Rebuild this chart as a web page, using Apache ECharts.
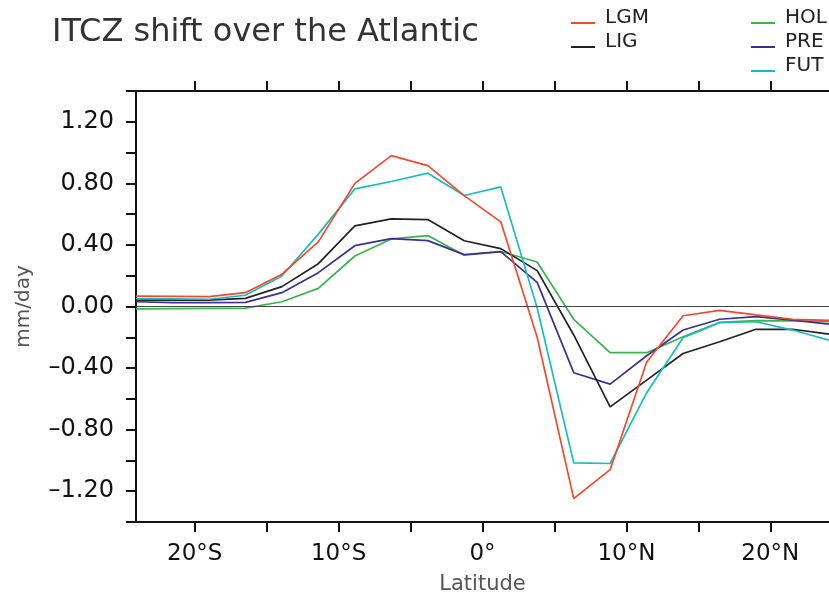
<!DOCTYPE html>
<html>
<head>
<meta charset="utf-8">
<script src="https://cdn.jsdelivr.net/npm/echarts@6/dist/echarts.min.js"></script>
<style>
html,body{margin:0;padding:0;background:#fff;}
#chart{width:829px;height:595px;}
</style>
</head>
<body>
<div id="chart"></div>
<script>
// Latitudes of the model grid points (degrees, negative = south)
const lat = [-24.08,-21.55,-19.01,-16.48,-13.94,-11.41,-8.87,-6.34,-3.80,-1.27,1.27,3.80,6.34,8.87,11.41,13.94,16.48,19.01,21.55,24.08];
const LGM = [0.068,0.066,0.064,0.09,0.21,0.42,0.80,0.98,0.915,0.72,0.55,-0.20,-1.248,-1.06,-0.36,-0.06,-0.025,-0.055,-0.083,-0.09];
const LIG = [0.042,0.042,0.042,0.053,0.129,0.278,0.524,0.569,0.565,0.427,0.376,0.233,-0.185,-0.652,-0.478,-0.305,-0.229,-0.148,-0.148,-0.179];
const HOL = [-0.016,-0.014,-0.012,-0.01,0.031,0.118,0.328,0.439,0.461,0.333,0.357,0.289,-0.083,-0.30,-0.30,-0.196,-0.103,-0.092,-0.094,-0.099];
const PRE = [0.031,0.025,0.025,0.027,0.09,0.22,0.395,0.441,0.428,0.337,0.357,0.157,-0.43,-0.504,-0.32,-0.153,-0.083,-0.066,-0.088,-0.114];
const FUT = [0.051,0.049,0.047,0.073,0.198,0.47,0.764,0.812,0.866,0.721,0.777,-0.01,-1.016,-1.02,-0.56,-0.203,-0.105,-0.099,-0.153,-0.218];

const xTickValues = [-20,-15,-10,-5,0,5,10,15,20];
const xLabelValues = [-20,-10,0,10,20];
const yLabelValues = [-1.2,-0.8,-0.4,0,0.4,0.8,1.2];

const FONT = 'DejaVu Sans';
const colors = {LGM:'#F24A2B', LIG:'#222222', HOL:'#3BB54A', PRE:'#3D2F96', FUT:'#17BEBE'};

function fmtLat(v){
  v = Math.round(v);
  if (v < 0) return (-v) + '°S';
  if (v > 0) return v + '°N';
  return '0°';
}
function fmtY(v){
  const s = Math.abs(v).toFixed(2);
  return v < -1e-9 ? '\u2013' + s : s;
}

const legendIcon = 'path://M0,0h0.01v0.01h-0.01z M29,0h0.01v0.01h-0.01z M0,14h24v2h-24z M0,20h0.01v0.01h-0.01z';

function mk(name, vals){
  return {
    name: name, type: 'line', symbol: 'none', smooth: false,
    data: lat.map((x,i)=>[x, vals[i]]),
    lineStyle: {color: colors[name], width: 1.7},
    itemStyle: {color: colors[name]},
    clip: true
  };
}

const series = [mk('HOL',HOL), mk('PRE',PRE), mk('LIG',LIG), mk('FUT',FUT), mk('LGM',LGM)];
series[0].markLine = {
  silent: true, symbol: 'none', label: {show:false},
  lineStyle: {color:'#444', width:1.2, type:'solid'},
  data: [{yAxis: 0}],
  animation: false
};

const axisLineStyle = {color:'#111', width:2};
const chart = echarts.init(document.getElementById('chart'), null, {renderer:'canvas'});
chart.setOption({
  animation: false,
  backgroundColor: '#fff',
  title: {
    text: 'ITCZ shift over the Atlantic', left: 52, top: 17, padding: 0,
    textStyle: {fontFamily: FONT, fontSize: 32, fontWeight: 'normal', color: '#333'}
  },
  legend: [
    {data:['LGM','LIG'], orient:'vertical', left:571, top:8, itemGap:4, itemWidth:29, itemHeight:20,
     icon: legendIcon, symbolKeepAspect:false, padding:0,
     textStyle:{fontFamily:FONT, fontSize:20, color:'#222'}},
    {data:['HOL','PRE','FUT'], orient:'vertical', left:751, top:8, itemGap:4, itemWidth:29, itemHeight:20,
     icon: legendIcon, symbolKeepAspect:false, padding:0,
     textStyle:{fontFamily:FONT, fontSize:20, color:'#222'}}
  ],
  grid: {left:136, right:0, top:91, bottom:73, containLabel:false, outerBoundsMode:'none'},
  xAxis: [
    {
      type:'value', min:-24.08, max:24.08, position:'bottom',
      axisLine:{show:true, onZero:false, lineStyle:axisLineStyle},
      axisTick:{show:true, inside:false, length:10, lineStyle:axisLineStyle, customValues:xTickValues},
      axisLabel:{show:true, customValues:xLabelValues, formatter:fmtLat, margin:21,
                 fontFamily:FONT, fontSize:23, color:'#111'},
      splitLine:{show:false},
      name:'Latitude', nameLocation:'middle', nameGap:52,
      nameTextStyle:{fontFamily:FONT, fontSize:21, color:'#555'}
    },
    {
      type:'value', min:-24.08, max:24.08, position:'top',
      axisLine:{show:true, onZero:false, lineStyle:axisLineStyle},
      axisTick:{show:true, inside:false, length:10, lineStyle:axisLineStyle, customValues:xTickValues},
      axisLabel:{show:false},
      splitLine:{show:false}
    }
  ],
  yAxis: {
    type:'value', min:-1.4, max:1.4, interval:0.2,
    axisLine:{show:true, onZero:false, lineStyle:axisLineStyle},
    axisTick:{show:true, inside:false, length:10, lineStyle:axisLineStyle},
    axisLabel:{show:true, customValues:yLabelValues, formatter:fmtY, margin:22,
               fontFamily:FONT, fontSize:24, color:'#111'},
    splitLine:{show:false},
    name:'mm/day', nameLocation:'middle', nameGap:102, nameRotate:90,
    nameTextStyle:{fontFamily:FONT, fontSize:20, color:'#555'}
  },
  series: series
});
</script>
</body>
</html>
